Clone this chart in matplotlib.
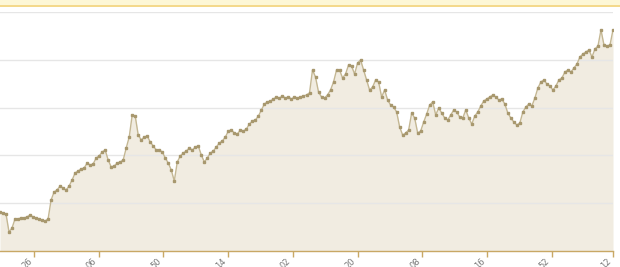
import numpy as np
import matplotlib
matplotlib.use("Agg")
import matplotlib.pyplot as plt
from matplotlib.patches import Rectangle

values = [
    40.8, 39.7, 38.7, 19.9, 24.1, 33.5, 33.5, 34.5, 34.5, 35.6,
    37.7, 35.6, 34.5, 33.5, 32.4, 31.4, 33.5, 53.3, 61.7, 63.8,
    68.0, 65.9, 63.8, 68.0, 74.3, 81.6, 83.7, 85.8, 86.8, 92.0,
    90.0, 91.0, 97.3, 99.4, 103.6, 105.6, 95.2, 87.9, 88.9, 92.0,
    93.1, 95.2, 107.7, 119.2, 142.3, 141.2, 121.3, 116.1, 119.2, 120.3,
    114.0, 109.8, 105.6, 105.6, 103.6, 97.3, 92.0, 84.7, 73.2, 93.1,
    99.4, 102.5, 104.6, 107.7, 105.6, 108.8, 109.8, 100.4, 93.1, 97.3,
    102.5, 104.6, 108.8, 113.0, 115.1, 119.2, 125.5, 126.6, 123.4, 122.4,
    126.6, 125.5, 127.6, 132.8, 136.0, 137.0, 141.2, 147.5, 153.8, 155.9,
    156.9, 159.0, 161.1, 160.0, 162.1, 160.0, 161.1, 159.0, 161.1, 160.0,
    161.1, 162.1, 163.2, 165.3, 189.3, 182.0, 166.3, 161.1, 160.0, 163.2,
    168.4, 176.8, 189.3, 189.3, 181.0, 185.1, 194.6, 193.5, 185.1, 196.6,
    199.8, 189.3, 178.9, 168.4, 171.5, 178.9, 176.8, 161.1, 168.4, 157.9,
    152.7, 150.6, 145.4, 129.7, 121.3, 123.4, 126.6, 144.3, 139.1, 123.4,
    125.5, 134.9, 143.3, 152.7, 155.9, 142.3, 149.6, 144.3, 139.1, 137.0,
    142.3, 147.5, 145.4, 140.2, 139.1, 147.5, 139.1, 132.8, 141.2, 145.4,
    151.7, 156.9, 159.0, 161.1, 163.2, 161.1, 158.0, 159.0, 153.8, 144.3,
    139.1, 134.9, 131.8, 133.9, 145.4, 150.6, 153.8, 151.7, 160.0, 170.5,
    176.8, 178.9, 174.7, 172.6, 168.4, 172.6, 178.9, 181.0, 187.2, 189.3,
    187.2, 191.4, 195.6, 202.9, 206.1, 208.2, 210.3, 202.9, 211.3, 214.4,
    231.2, 215.5, 214.4, 215.5, 231.2,
]
tick_positions = [11.3, 32.9, 54.4, 76.0, 97.4, 119.0, 140.6, 162.0, 183.6, 204.0]
tick_labels = ["26", "06", "50", "14", "02", "20", "08", "16", "52", "12"]
y_grid = [50, 100, 150, 200, 250]

x = np.arange(len(values))

W, H = 620, 267
fig = plt.figure(figsize=(W / 100, H / 100), dpi=100)
fig.patch.set_facecolor("white")

# top banner
fig.patches.append(Rectangle((0, 1 - 5 / H), 1, 5 / H, transform=fig.transFigure,
                             facecolor="#fdf7d6", edgecolor="none", zorder=0))
fig.patches.append(Rectangle((0, 1 - 6.5 / H), 1, 1.5 / H, transform=fig.transFigure,
                             facecolor="#f4d98c", edgecolor="none", zorder=0))

left, right = 0 / W, 613 / W
bottom, top = 16 / H, 1 - 12 / H
ax = fig.add_axes([left, bottom, right - left, top - bottom])
ax.set_facecolor("none")

ax.fill_between(x, values, 0, color="#f1ece1", zorder=1, linewidth=0)
ax.plot(x, values, color="#c4b793", linewidth=1.0, marker="s", markersize=1.7,
        markerfacecolor="#a8986e", markeredgecolor="#a8986e", zorder=3)

for g in y_grid:
    ax.axhline(g, color="#e6e6e6", linewidth=1.0, zorder=2 if g < 250 else 0)

ax.set_xlim(0, len(values) - 1)
ax.set_ylim(0, 250)
ax.set_yticks([])
for s in ["left", "right", "top"]:
    ax.spines[s].set_visible(False)
ax.spines["bottom"].set_color("#c8a865")
ax.spines["bottom"].set_linewidth(1.0)
ax.spines["bottom"].set_zorder(4)

ax.set_xticks(tick_positions)
ax.set_xticklabels(tick_labels, rotation=45, ha="right", va="top",
                   color="#777777", fontsize=6)
ax.tick_params(axis="x", length=4, width=1, color="#c8a865", pad=0)

fig.savefig("out.png", dpi=100)
